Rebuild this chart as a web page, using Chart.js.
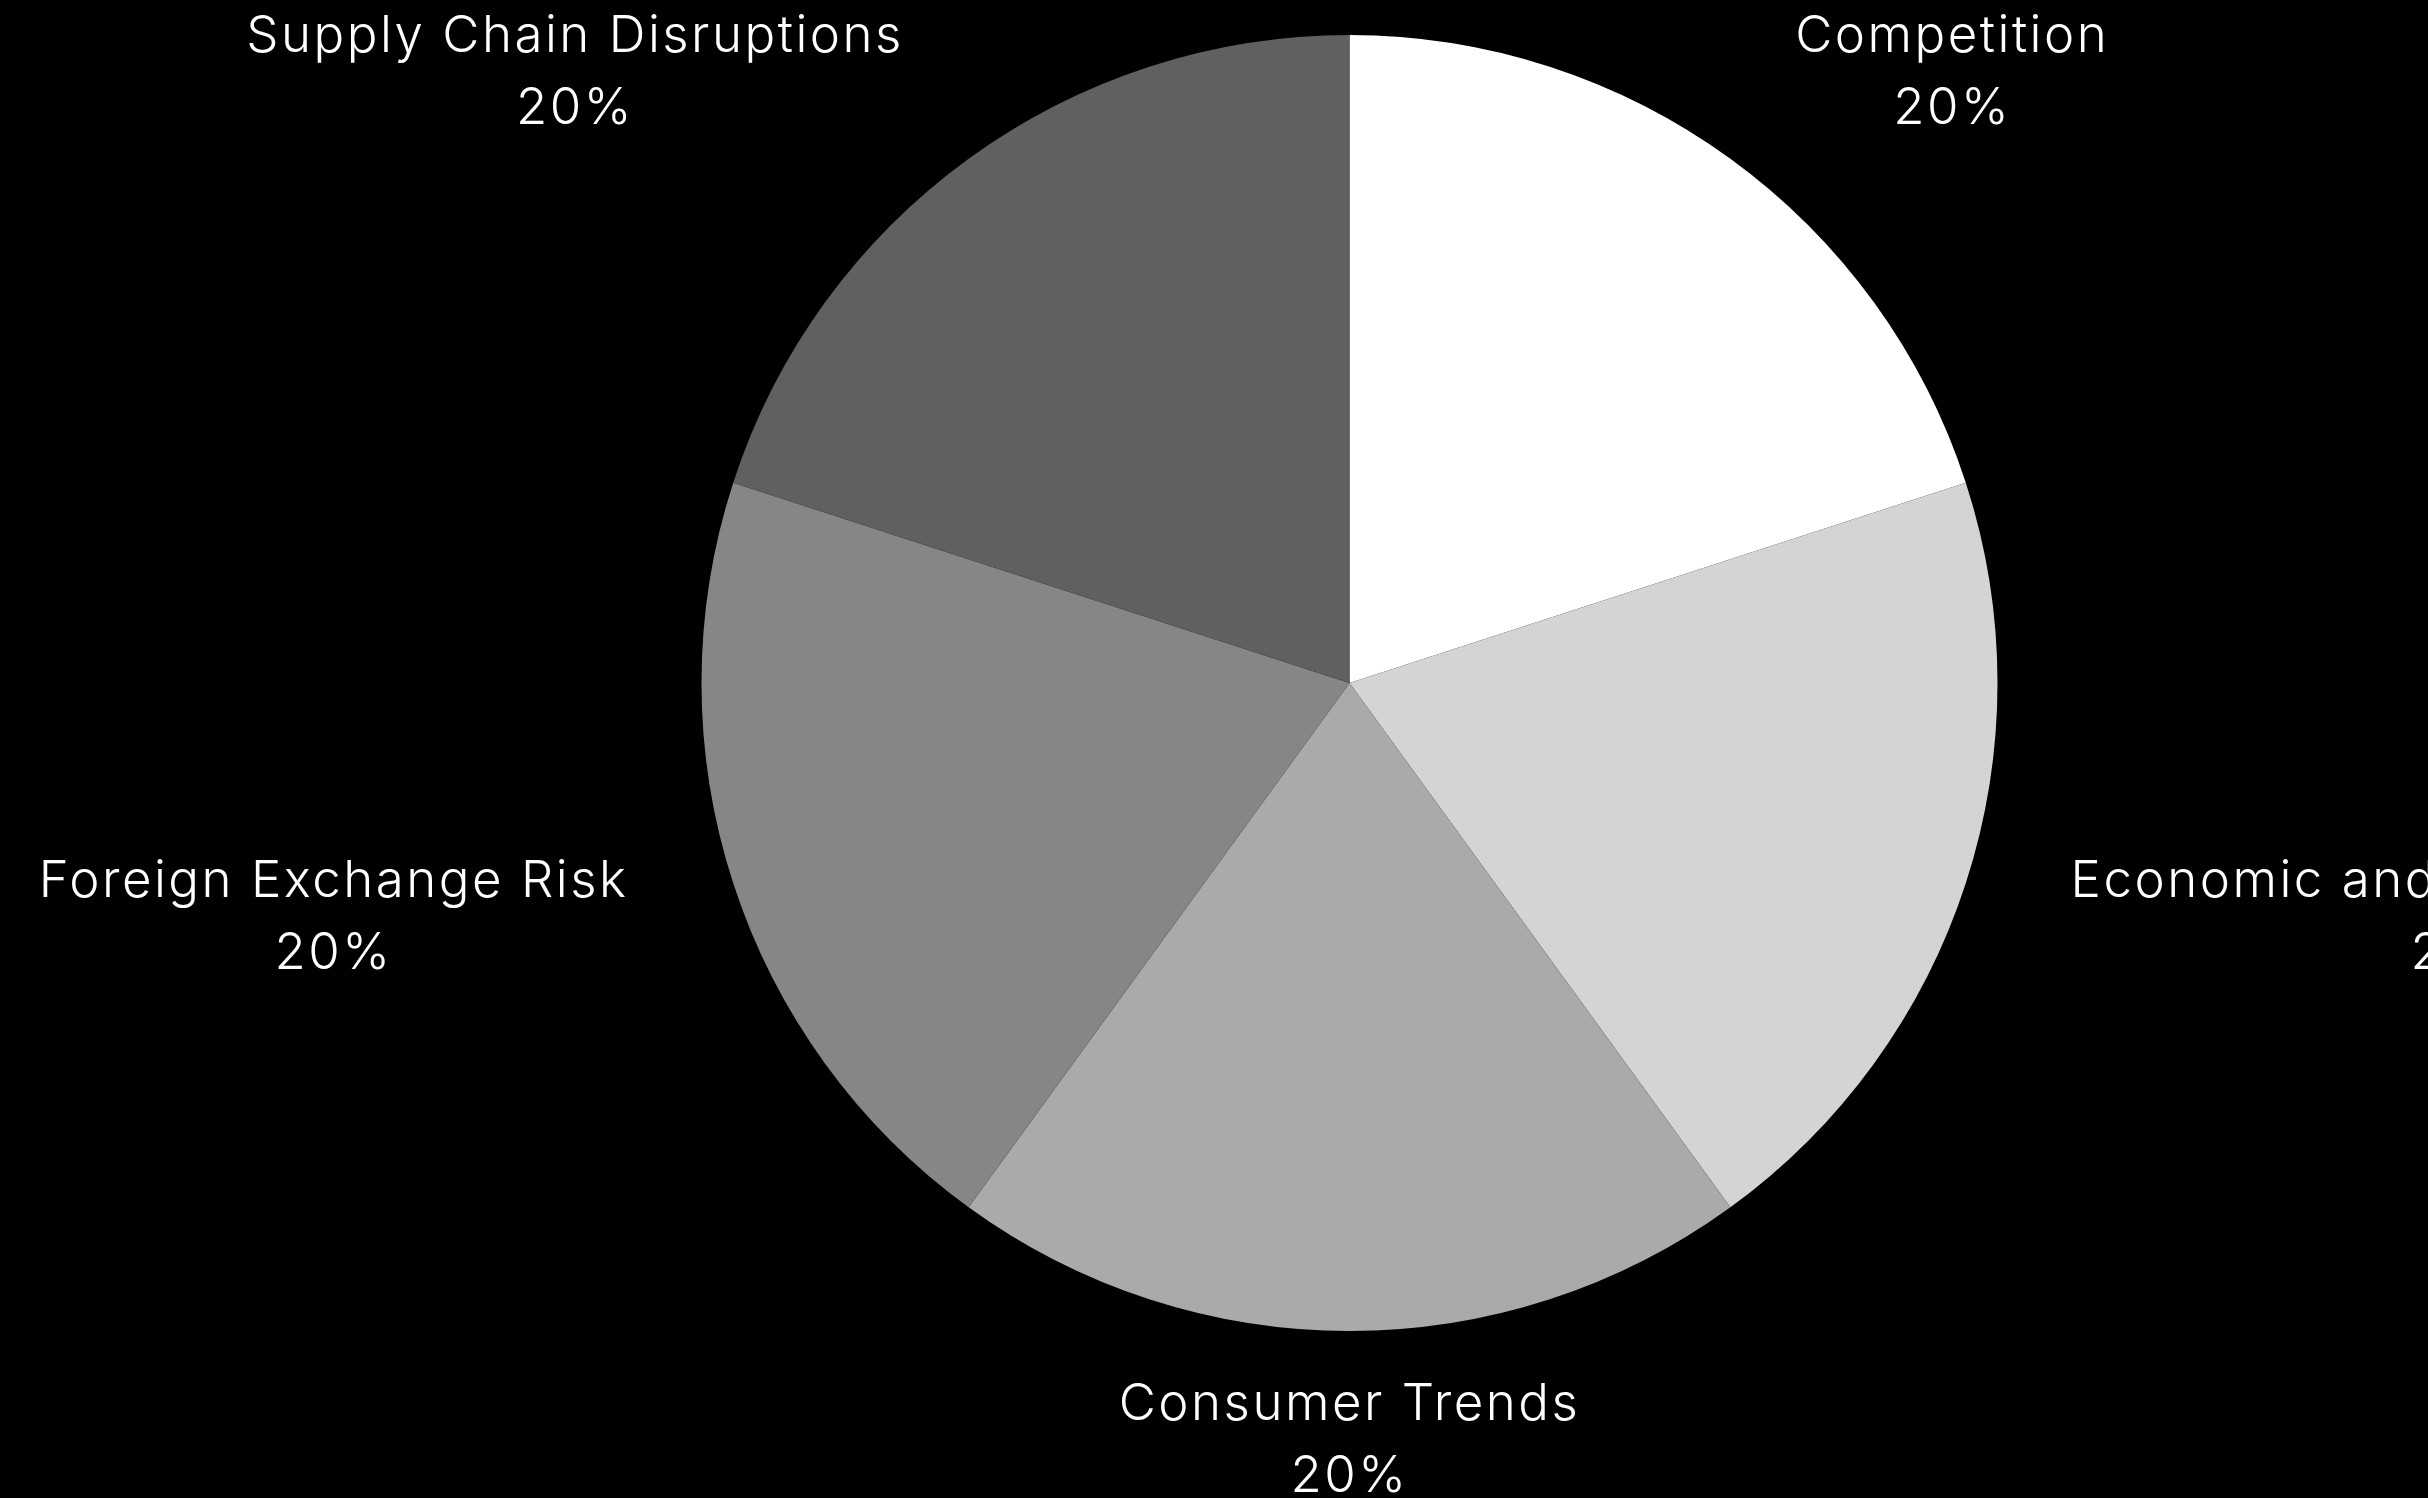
<!DOCTYPE html>
<html>
<head>
<meta charset="utf-8">
<title>Risk Factors</title>
<script src="https://cdn.jsdelivr.net/npm/chart.js@4.4.1/dist/chart.umd.min.js"></script>
<style>
  html, body { margin: 0; padding: 0; background: #000; }
  #wrap { position: relative; width: 2428px; height: 1498px; background: #000; }
</style>
</head>
<body>
<div id="wrap"><canvas id="chart"></canvas></div>
<script>
// Risk categories and their shares
const categories = [
  'Competition',
  'Economic and Political Factors',
  'Consumer Trends',
  'Foreign Exchange Risk',
  'Supply Chain Disruptions'
];
const shares = [20, 20, 20, 20, 20];
const sliceColors = ['#ffffff', '#d4d4d4', '#aaaaaa', '#868686', '#606060'];

const LABEL_FONT = '300 51px Inter, "Open Sans", sans-serif';
const LABEL_TRACKING = '2.5px';
const LABEL_LINE = 72;
const LABEL_RADIUS_FACTOR = 1.17;

// Two-line outside labels: category name, then its percentage
const outsideLabels = {
  id: 'outsideLabels',
  afterDatasetsDraw(chart) {
    const ctx = chart.ctx;
    const meta = chart.getDatasetMeta(0);
    const values = chart.data.datasets[0].data;
    const total = values.reduce((a, b) => a + b, 0);
    ctx.save();
    ctx.font = LABEL_FONT;
    if ('letterSpacing' in ctx) ctx.letterSpacing = LABEL_TRACKING;
    ctx.fillStyle = '#ffffff';
    ctx.textBaseline = 'middle';
    ctx.textAlign = 'center';
    meta.data.forEach((arc, i) => {
      const p = arc.getProps(['x', 'y', 'startAngle', 'endAngle', 'outerRadius'], true);
      const mid = (p.startAngle + p.endAngle) / 2;
      const r = p.outerRadius * LABEL_RADIUS_FACTOR;
      const ax = p.x + Math.cos(mid) * r;
      const ay = p.y + Math.sin(mid) * r;
      const lines = [chart.data.labels[i], Math.round(values[i] / total * 100) + '%'];
      const blockW = Math.max(...lines.map(t => ctx.measureText(t).width));
      const c = Math.cos(mid);
      let cx;
      if (c > 0.01) cx = ax + blockW / 2;
      else if (c < -0.01) cx = ax - blockW / 2;
      else cx = ax;
      const top = ay - (lines.length - 1) * LABEL_LINE / 2 + (Math.sin(mid) < -0.5 ? 3 : 0);
      lines.forEach((t, k) => ctx.fillText(t, cx, top + k * LABEL_LINE));
    });
    ctx.restore();
  }
};

new Chart(document.getElementById('chart'), {
  type: 'pie',
  data: {
    labels: categories,
    datasets: [{
      data: shares,
      backgroundColor: sliceColors,
      borderWidth: 0,
      hoverOffset: 0,
      offset: 0
    }]
  },
  options: {
    responsive: true,
    maintainAspectRatio: false,
    animation: false,
    events: [],
    layout: { padding: { top: 35, bottom: 167, left: 400, right: 129 } },
    plugins: {
      legend: { display: false },
      tooltip: { enabled: false },
      title: { display: false }
    }
  },
  plugins: [outsideLabels]
});
</script>
</body>
</html>
